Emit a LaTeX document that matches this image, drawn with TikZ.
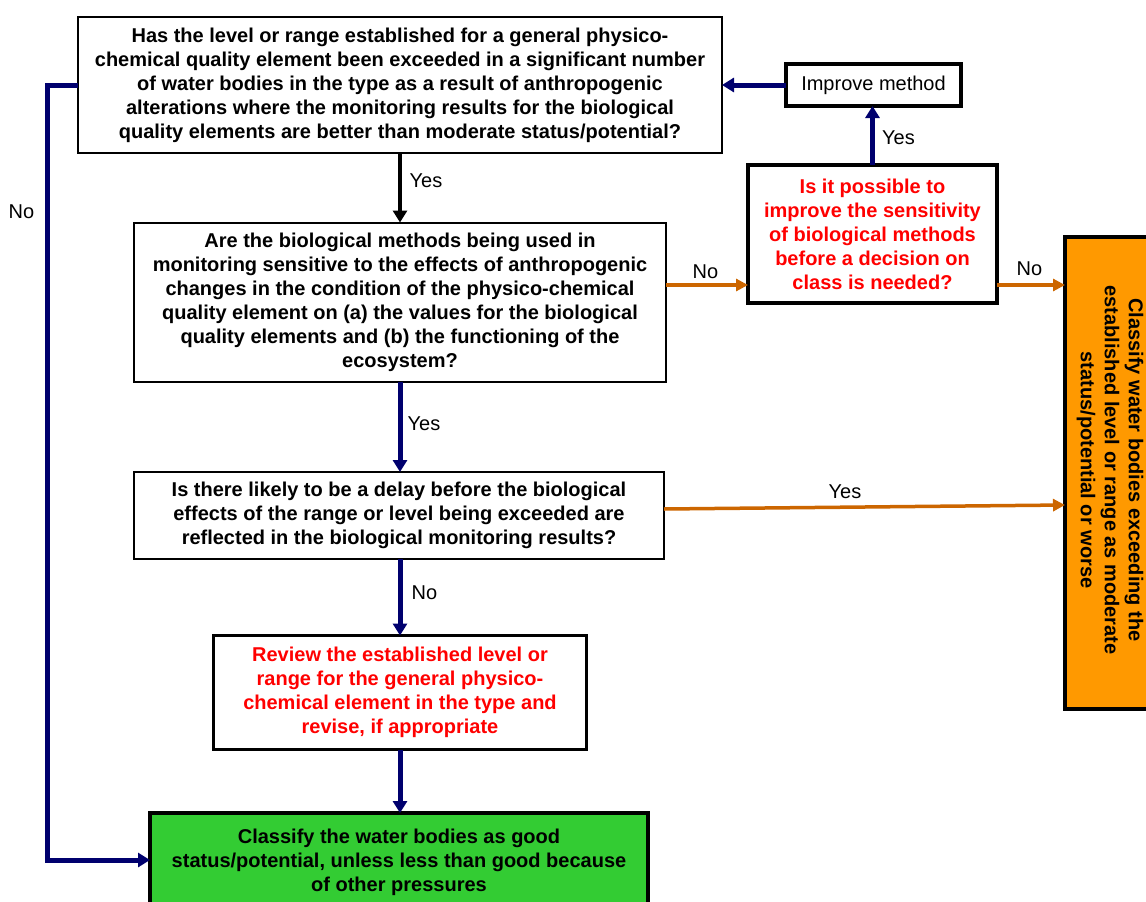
\documentclass[tikz,border=0pt]{standalone}
\usepackage{fontspec}
\setmainfont{Liberation Sans}
\usetikzlibrary{arrows.meta}
\definecolor{navy}{RGB}{0,0,110}
\definecolor{arrorange}{RGB}{204,102,0}
\definecolor{boxorange}{RGB}{255,153,0}
\definecolor{boxgreen}{RGB}{51,204,51}
\definecolor{txtred}{RGB}{255,0,0}
\begin{document}
\begin{tikzpicture}[x=1pt,y=-1pt,
  every node/.style={inner sep=0pt, outer sep=0pt},
  box/.style={draw=black, align=center, font=\fontsize{20}{24}\selectfont\bfseries, line width=2pt, fill=white},
  thickbox/.style={box, line width=4pt},
  lbl/.style={font=\fontsize{20}{24}\selectfont},
  blackarr/.style={draw=black, line width=4.5pt, -{Triangle[length=12pt,width=14pt]}},
  navyarr/.style={draw=navy, line width=5pt, -{Triangle[length=12pt,width=14pt]}},
  orarr/.style={draw=arrorange, line width=3.5pt, -{Triangle[length=12pt,width=12pt]}}
]
\useasboundingbox (0,0) rectangle (1146,902);
\clip (0,0) rectangle (1146,902);

\node[box, minimum width=644pt, minimum height=136pt] (b1) at (400,85)
  {Has the level or range established for a general physico-\\
   chemical quality element been exceeded in a significant number\\
   of water bodies in the type as a result of anthropogenic\\
   alterations where the monitoring results for the biological\\
   quality elements are better than moderate status/potential?};

\node[box, minimum width=532pt, minimum height=159pt] (b2) at (400,302)
  {Are the biological methods being used in\\
   monitoring sensitive to the effects of anthropogenic\\
   changes in the condition of the physico-chemical\\
   quality element on (a) the values for the biological\\
   quality elements and (b) the functioning of the\\
   ecosystem?};

\node[thickbox, text=txtred, minimum width=249pt, minimum height=138pt] (b3) at (872.5,234)
  {Is it possible to\\
   improve the sensitivity\\
   of biological methods\\
   before a decision on\\
   class is needed?};

\node[box, line width=3.5pt, font=\fontsize{20}{24}\selectfont, minimum width=175pt, minimum height=42pt] (imp) at (873.5,85)
  {Improve method};

\node[box, minimum width=530pt, minimum height=87pt] (b4) at (399,515.5)
  {Is there likely to be a delay before the biological\\
   effects of the range or level being exceeded are\\
   reflected in the biological monitoring results?};

\node[box, line width=3.5pt, text=txtred, minimum width=373pt, minimum height=114pt] (b5) at (400,692.5)
  {Review the established level or\\
   range for the general physico-\\
   chemical element in the type and\\
   revise, if appropriate};

\node[thickbox, fill=boxgreen, minimum width=498pt, minimum height=98pt] (green) at (399,862)
  {Classify the water bodies as good\\
   status/potential, unless less than good because\\
   of other pressures};

\node[thickbox, fill=boxorange, minimum width=90pt, minimum height=472pt] (orange) at (1110,473) {};
\node[font=\fontsize{20}{24}\selectfont\bfseries, align=center, rotate=-90] (otext) at (1110,470)
  {Classify water bodies exceeding the\\
   established level or range as moderate\\
   status/potential or worse};

% connectors
\coordinate (c1) at (47,85);
\coordinate (c2) at (47,860);
\coordinate (r1) at (0,285);
\coordinate (y1) at (0,509);
\coordinate (y2) at (0,505);

\draw[blackarr] (b1.south) -- (b2.north);
\draw[navyarr] (b2.south) -- (b2.south |- b4.north);
\draw[navyarr] (b5.north |- b4.south) -- (b5.north);
\draw[navyarr] (b5.south) -- (b5.south |- green.north);
\draw[orarr] (b2.east |- r1) -- (b3.west |- r1);
\draw[orarr] (b3.east |- r1) -- (orange.west |- r1);
\draw[orarr] (b4.east |- y1) -- (orange.west |- y2);
\draw[navyarr] (b3.north) -- (b3.north |- imp.south);
\draw[navyarr] (imp.west) -- (imp.west -| b1.east);
\draw[navyarr] (b1.west) -- (c1) -- (c2) -- (c2 -| green.west);

% labels
\node[lbl] (l1) at (426,181) {Yes};
\node[lbl] (l2) at (424,424) {Yes};
\node[lbl] (l3) at (424.5,593) {No};
\node[lbl] (l4) at (705.5,272) {No};
\node[lbl] (l5) at (1029.5,269) {No};
\node[lbl] (l6) at (845,492) {Yes};
\node[lbl] (l7) at (898.5,138) {Yes};
\node[lbl] (l8) at (21.5,212) {No};
\end{tikzpicture}
\end{document}
